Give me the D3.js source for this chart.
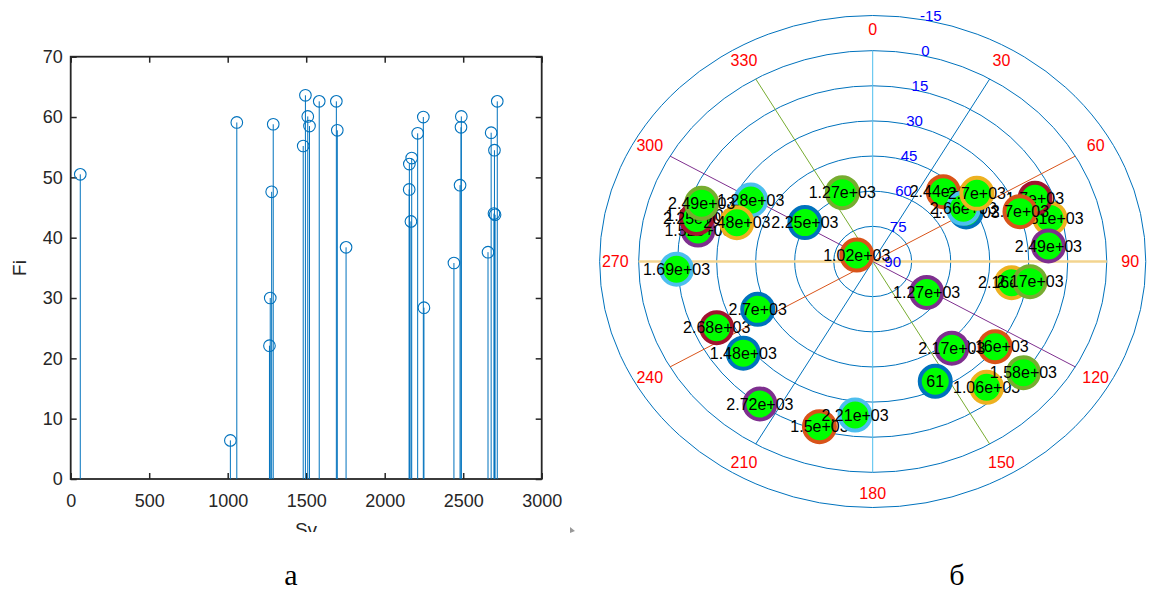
<!DOCTYPE html>
<html>
<head>
<meta charset="utf-8">
<script src="https://cdn.jsdelivr.net/npm/d3@7"></script>
<style>
  body { margin: 0; background: #fff; }
  svg { display: block; font-family: "Liberation Sans", Arial, sans-serif; }
</style>
</head>
<body>
<svg id="fig" width="1152" height="592"></svg>
<script>
// stem plot (а): Sv vs Fi, sorted by Sv
const sv = [61, 1017, 1058, 1266, 1271, 1280, 1290, 1481, 1495, 1510, 1521, 1583, 1692, 1698, 1754,
  2156, 2157, 2167, 2172, 2210, 2246, 2250, 2441, 2480, 2486, 2488, 2658, 2678, 2696, 2699, 2703, 2717]
const fi = [50.5, 6.4, 59.1, 22.1, 30.0, 47.6, 58.8, 55.2, 63.6, 60.1, 58.5, 62.6, 62.6, 57.8, 38.4,
  48.0, 52.2, 42.7, 53.2, 57.3, 60.0, 28.4, 35.8, 48.7, 58.3, 60.1, 37.6, 57.4, 44.0, 54.5, 43.8, 62.6]

// polar plot (б): same points, angle + radial value, labelled by Sv
const azimuth = [154.8, 294.3, 140.8, 122.5, 338.3, 299.2, 286.5, 231.8, 196.2, 74.9, 281.3, 129.3, 267.5, 66.6, 59.5,
  127.7, 99.6, 140.6, 98.1, 185.9, 285.2, 302.5, 42.3, 287.6, 84.4, 290.7, 56.9, 244.8, 245.2, 69.4, 54.0, 215.5]
const dip = [33.5, 83.3, 20.7, 65.4, 58.4, 36.3, 20.3, 26.7, 16.6, 19.4, 21.5, 15.1, 14.5, 22.0, 48.3,
  30.5, 35.8, 42.1, 28.9, 24.1, 19.8, 59.1, 49.7, 35.2, 22.1, 19.7, 48.4, 23.7, 41.3, 29.5, 40.5, 15.3]

const xTicks = [0, 500, 1000, 1500, 2000, 2500, 3000]
const yTicks = [0, 10, 20, 30, 40, 50, 60, 70]
const ringValues = [-15, 0, 15, 30, 45, 60, 75]
const radialLabels = [-15, 0, 15, 30, 45, 60, 75, 90]
const spokeAngles = [30, 60, 90, 120, 150, 180]
const angleLabels = [0, 30, 60, 90, 120, 150, 180, 210, 240, 270, 300, 330]

const colorOrder = ["#0072BD", "#D95319", "#EDB120", "#7E2F8E", "#77AC30", "#4DBEEE", "#A2142F"]

// matlab-ish num2str(x, 3)
function fmt3 (v) {
	if (Math.abs(v) < 1000) return String(+v.toPrecision(3))
	let parts = v.toExponential(2).split("e")
	let m = String(+parts[0])
	let e = parts[1]
	return m + "e" + e[0] + e.slice(1).padStart(2, "0")
}

const svg = d3.select("#fig")
svg.append("rect").attr("width", 1152).attr("height", 592).attr("fill", "#fff")

// ---------- left: stem plot ----------
svg.append("clipPath").attr("id", "leftclip")
	.append("rect").attr("x", 0).attr("y", 0).attr("width", 580).attr("height", 532)

const left = svg.append("g").attr("clip-path", "url(#leftclip)")

const xScale = d3.scaleLinear().domain([0, 3000]).range([70.7, 541.7])
const yScale = d3.scaleLinear().domain([0, 70]).range([479, 56.7])

const axisCol = "#262626"

function styleAxis (g) {
	g.select(".domain").remove()
	g.selectAll("line").attr("stroke", axisCol).attr("stroke-width", 1.5)
	g.selectAll("text").attr("fill", axisCol).style("font-size", "18px")
		.style("font-family", "Liberation Sans, Arial, sans-serif")
}

const xAxis = d3.axisBottom(xScale).tickValues(xTicks).tickFormat(d3.format("d"))
	.tickSizeInner(-6).tickSizeOuter(0).tickPadding(15)
left.append("g").attr("transform", "translate(0," + yScale(0) + ")").call(xAxis).call(styleAxis)

const yAxis = d3.axisLeft(yScale).tickValues(yTicks).tickFormat(d3.format("d"))
	.tickSizeInner(-6).tickSizeOuter(0).tickPadding(8)
left.append("g").attr("transform", "translate(" + xScale(0) + ",0)").call(yAxis).call(styleAxis)

left.append("g").attr("transform", "translate(0," + yScale(70) + ")")
	.call(d3.axisTop(xScale).tickValues(xTicks).tickSizeInner(-6).tickSizeOuter(0).tickFormat(""))
	.call(styleAxis)

left.append("g").attr("transform", "translate(" + xScale(3000) + ",0)")
	.call(d3.axisRight(yScale).tickValues(yTicks).tickSizeInner(-6).tickSizeOuter(0).tickFormat(""))
	.call(styleAxis)

left.append("rect")
	.attr("x", xScale(0)).attr("y", yScale(70))
	.attr("width", xScale(3000) - xScale(0)).attr("height", yScale(0) - yScale(70))
	.attr("fill", "none").attr("stroke", axisCol).attr("stroke-width", 1.8)

const stems = sv.map((d, i) => ({sv: d, fi: fi[i]}))

left.selectAll(".stem")
	.data(stems)
	.join("line")
	.attr("class", "stem")
	.attr("x1", d => xScale(d.sv))
	.attr("x2", d => xScale(d.sv))
	.attr("y1", d => yScale(d.fi))
	.attr("y2", yScale(0))
	.attr("stroke", "#0072BD")
	.attr("stroke-width", 1)

left.selectAll(".head")
	.data(stems)
	.join("circle")
	.attr("class", "head")
	.attr("cx", d => xScale(d.sv))
	.attr("cy", d => yScale(d.fi))
	.attr("r", 5.8)
	.attr("fill", "none")
	.attr("stroke", "#0072BD")
	.attr("stroke-width", 1.1)

left.append("text")
	.attr("transform", "translate(26,268) rotate(-90)")
	.attr("text-anchor", "middle")
	.attr("fill", axisCol)
	.style("font-size", "19px")
	.text("Fi")

left.append("text")
	.attr("x", 306).attr("y", 536)
	.attr("text-anchor", "middle")
	.attr("fill", axisCol)
	.style("font-size", "19px")
	.text("Sv")

// little grey speck at the crop edge
svg.append("path").attr("d", "M570,527 L575,531 L570,533 Z").attr("fill", "#999")

// ---------- right: polar plot ----------
const cx = 872.7, cy = 261.5, sx = 1.11
const rScale = d3.scaleLinear().domain([90, -15]).range([0, 246])

function px (ang, r) { return cx + sx * r * Math.sin(ang * Math.PI / 180) }
function py (ang, r) { return cy - r * Math.cos(ang * Math.PI / 180) }

const polar = svg.append("g")

polar.selectAll(".ring")
	.data(ringValues)
	.join("ellipse")
	.attr("cx", cx).attr("cy", cy)
	.attr("rx", d => rScale(d) * sx)
	.attr("ry", d => rScale(d))
	.attr("fill", "none")
	.attr("stroke", "#0072BD")
	.attr("stroke-width", 1)

// spokes: one colour per line from the default order, the 90-270 one is pale and wide
const spokeR = rScale(0)
polar.selectAll(".spoke")
	.data(spokeAngles)
	.join("line")
	.attr("x1", d => px(d, spokeR)).attr("y1", d => py(d, spokeR))
	.attr("x2", d => px(d + 180, spokeR)).attr("y2", d => py(d + 180, spokeR))
	.attr("stroke", (d, i) => d === 90 ? "#F3D48F" : colorOrder[i])
	.attr("stroke-width", d => d === 90 ? 2.5 : 1)

const labR = rScale(-9)
polar.selectAll(".alab")
	.data(angleLabels)
	.join("text")
	.attr("x", d => px(d, labR)).attr("y", d => py(d, labR))
	.attr("dy", "0.35em")
	.attr("text-anchor", "middle")
	.attr("fill", "#FF0000")
	.style("font-size", "16px")
	.text(d => d)

polar.selectAll(".rlab")
	.data(radialLabels)
	.join("text")
	.attr("x", d => cx + 20 + 0.155 * rScale(d))
	.attr("y", d => cy - rScale(d))
	.attr("dy", "0.35em")
	.attr("text-anchor", "middle")
	.attr("fill", "#0000FF")
	.style("font-size", "15px")
	.text(d => d)

const pts = sv.map((d, i) => ({label: fmt3(d), az: azimuth[i], v: dip[i], col: colorOrder[i % 7]}))

const pg = polar.selectAll(".pt")
	.data(pts)
	.join("g")
	.attr("class", "pt")
	.attr("transform", d => "translate(" + px(d.az, rScale(d.v)) + "," + py(d.az, rScale(d.v)) + ")")

pg.append("circle")
	.attr("r", 15.5)
	.attr("fill", "#00FF00")
	.attr("stroke", d => d.col)
	.attr("stroke-width", 4)

pg.append("text")
	.attr("text-anchor", "middle")
	.attr("dy", "0.35em")
	.attr("fill", "#000")
	.style("font-size", "16px")
	.text(d => d.label)

// captions
svg.append("text").attr("x", 291).attr("y", 585).attr("text-anchor", "middle")
	.style("font-family", "Liberation Serif, Times New Roman, serif").style("font-size", "30px").text("а")
svg.append("text").attr("x", 957).attr("y", 585).attr("text-anchor", "middle")
	.style("font-family", "Liberation Serif, Times New Roman, serif").style("font-size", "30px").text("б")
</script>
</body>
</html>
